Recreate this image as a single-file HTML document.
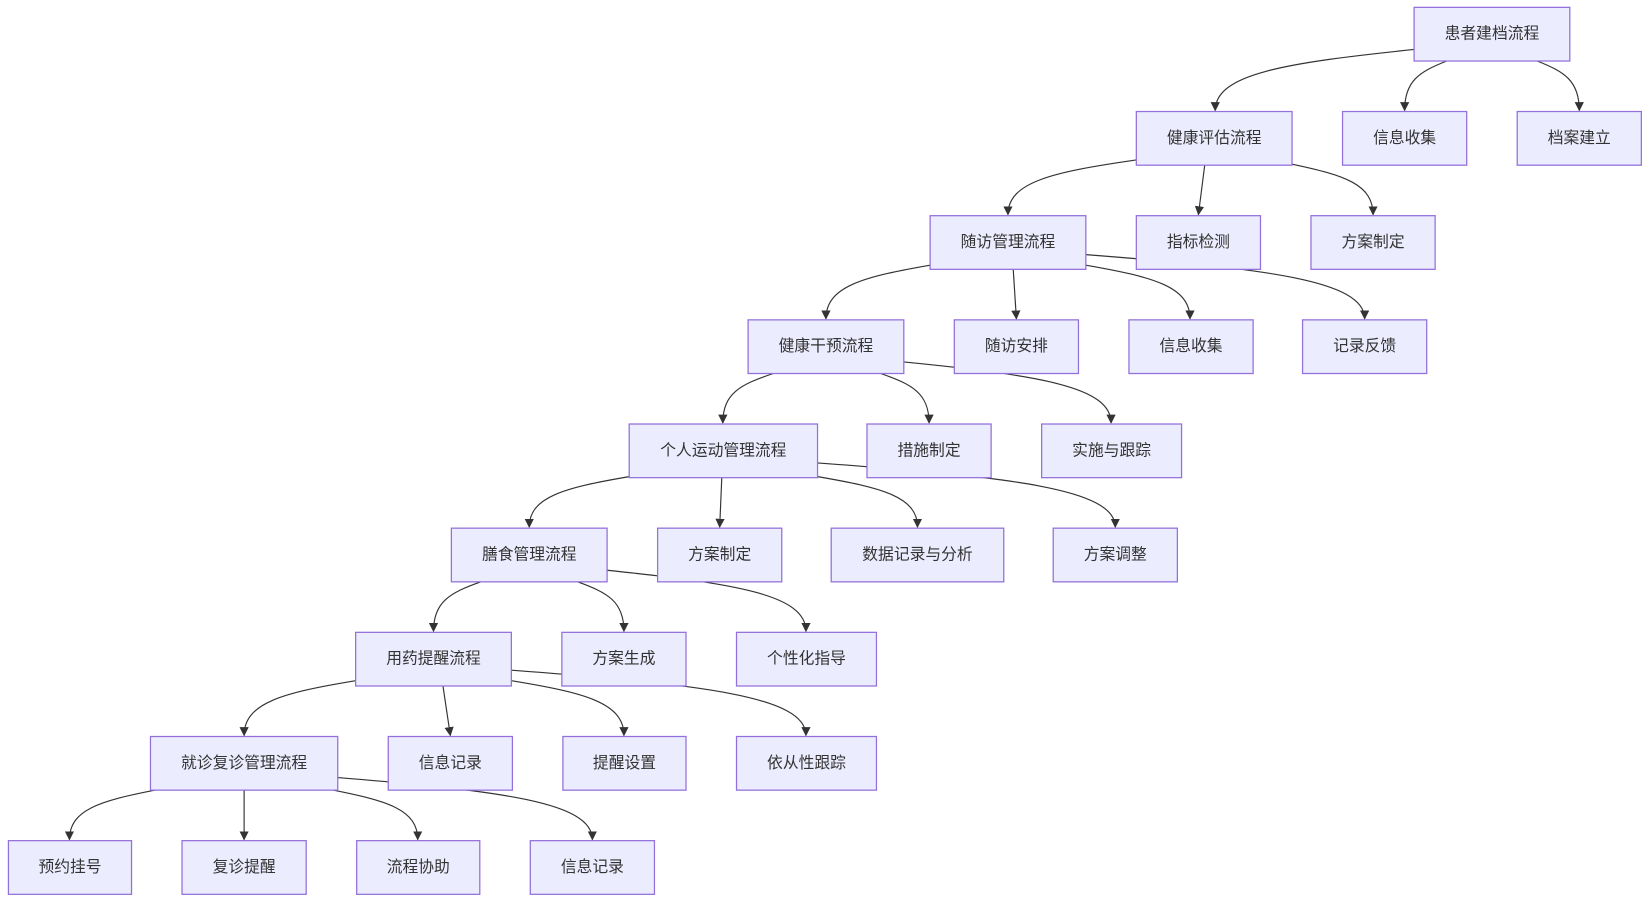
<!DOCTYPE html>
<html><head><meta charset="utf-8"><style>
html,body{margin:0;padding:0;background:#fff;width:1648px;height:902px;overflow:hidden}
svg{display:block}
text{font-family:"Liberation Sans","Noto Sans CJK SC",sans-serif;font-size:15px;fill:#333;text-anchor:middle;dominant-baseline:central}
</style></head><body>
<svg id="s" width="1648" height="902" viewBox="0 0 1566.3 857.3" xmlns="http://www.w3.org/2000/svg">
<defs><marker id="a" viewBox="0 0 10 10" refX="9" refY="5" markerWidth="8" markerHeight="8" orient="auto"><path d="M0,0L10,5L0,10z" fill="#333"/></marker></defs>
<g id="e" fill="none" stroke="#333" stroke-width="1.1"></g>
<g id="n"></g>
</svg>
<script>
var N=[
[1344,1492,7,"患者建档流程"],
[1080,1228,106,"健康评估流程"],[1276,1394,106,"信息收集"],[1442,1560,106,"档案建立"],
[884,1032,205,"随访管理流程"],[1080,1198,205,"指标检测"],[1246,1364,205,"方案制定"],
[711,859,304,"健康干预流程"],[907,1025,304,"随访安排"],[1073,1191,304,"信息收集"],[1238,1356,304,"记录反馈"],
[598,777,403,"个人运动管理流程"],[824,942,403,"措施制定"],[990,1123,403,"实施与跟踪"],
[429,577,502,"膳食管理流程"],[625,743,502,"方案制定"],[790,954,502,"数据记录与分析"],[1001,1119,502,"方案调整"],
[338,486,601,"用药提醒流程"],[534,652,601,"方案生成"],[700,833,601,"个性化指导"],
[143,321,700,"就诊复诊管理流程"],[369,487,700,"信息记录"],[535,652,700,"提醒设置"],[700,833,700,"依从性跟踪"],
[8,125,799,"预约挂号"],[173,291,799,"复诊提醒"],[339,456,799,"流程协助"],[504,622,799,"信息记录"]];
var E=[[1344,47,1155,106],[1375,58,1335,106],[1461,58,1501,106],
[1080,152,958,205],[1145,157,1139,205],[1228,156,1305,205],
[884,252,785,304],[963,256,966,304],[1032,252,1131,304],[1032,242,1297,304],
[735,355,687,403],[837,355,883,403],[859,344,1056,403],
[598,453,503,502],[686,454,684,502],[777,453,872,502],[777,440,1060,502],
[457,553,412,601],[549,553,593,601],[577,542,766,601],
[338,647,232,700],[421,652,428,700],[486,647,593,700],[486,637,766,700],
[147,751,66,799],[232,751,232,799],[317,751,397,799],[321,739,563,799]];
var ns="http://www.w3.org/2000/svg",ge=document.getElementById("e"),gn=document.getElementById("n");
E.forEach(function(q){var sx=q[0],sy=q[1],ex=q[2],ey=q[3]-1,dx=ex-sx,dy=ey-sy;var p=document.createElementNS(ns,"path");
var d=Math.abs(dx)<10?"M"+sx+","+sy+"L"+ex+","+ey:"M"+sx+","+sy+"C"+(sx+dx*0.65)+","+(sy+dy*0.22)+" "+ex+","+(ey-dy*0.6)+" "+ex+","+ey;
p.setAttribute("d",d);p.setAttribute("marker-end","url(#a)");ge.appendChild(p);});
N.forEach(function(q){var r=document.createElementNS(ns,"rect");r.setAttribute("x",q[0]);r.setAttribute("y",q[2]);r.setAttribute("width",q[1]-q[0]);r.setAttribute("height",51);r.setAttribute("fill","#ECECFF");r.setAttribute("stroke","#9370DB");r.setAttribute("stroke-width","1.2");gn.appendChild(r);
var t=document.createElementNS(ns,"text");t.setAttribute("x",(q[0]+q[1])/2);t.setAttribute("y",q[2]+25.5);t.textContent=q[3];gn.appendChild(t);});
</script>
</body></html>
